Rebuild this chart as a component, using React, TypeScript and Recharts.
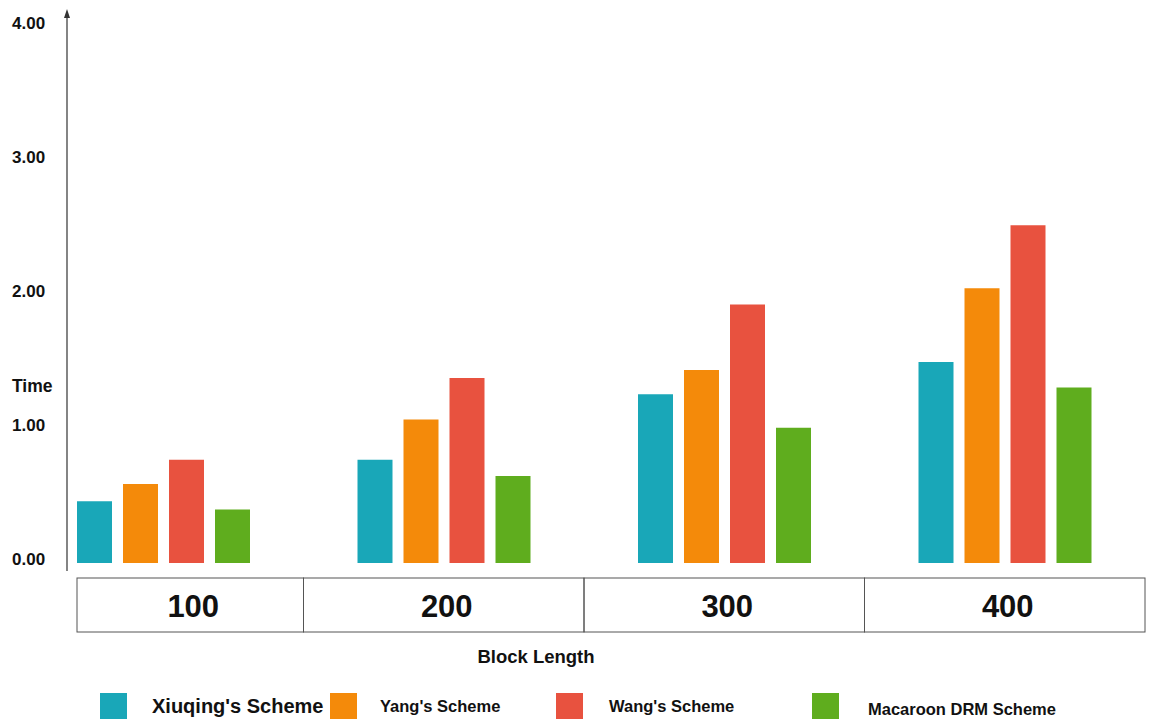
import * as React from "react";
import { BarChart, Bar, XAxis, YAxis, Legend, Label } from "recharts";

const categories = ["100", "200", "300", "400"];
const xiuqing = [0.46, 0.77, 1.26, 1.5];
const yang = [0.59, 1.07, 1.44, 2.05];
const wang = [0.77, 1.38, 1.93, 2.52];
const macaroon = [0.4, 0.65, 1.01, 1.31];
const yTicks = [0, 1, 2, 3, 4];

const series = [
    { key: "xiuqing", name: "Xiuqing's Scheme", color: "#19A7B8" },
    { key: "yang", name: "Yang's Scheme", color: "#F48A0A" },
    { key: "wang", name: "Wang's Scheme", color: "#E8523F" },
    { key: "macaroon", name: "Macaroon DRM Scheme", color: "#5FAD1E" },
];

const data = categories.map((block, i) => ({
    block,
    xiuqing: xiuqing[i],
    yang: yang[i],
    wang: wang[i],
    macaroon: macaroon[i],
}));

const W = 1152;
const H = 720;
const PLOT_LEFT = 23;
const PLOT_RIGHT = 1145;
const BAND = (PLOT_RIGHT - PLOT_LEFT) / categories.length;
const BOX_LEFT = 77;
const BOX_RIGHT = 1145;
const FONT = "'Liberation Sans', Arial, sans-serif";

// box cell + big label under each group
function BandTick(props: any) {
    const { x, y, payload } = props;
    const left = Math.max(BOX_LEFT, x - BAND / 2);
    const right = Math.min(BOX_RIGHT, x + BAND / 2);
    return (
        <g>
            <rect x={left} y={y + 15} width={right - left} height={54} fill="none" stroke="#555" strokeWidth={1} />
            <text x={(left + right) / 2 + 3} y={y + 54} textAnchor="middle" fontSize={31} fontWeight="bold" fill="#111" fontFamily={FONT}>
                {payload.value}
            </text>
        </g>
    );
}

function TimeTick(props: any) {
    const { y, payload } = props;
    return (
        <text x={12} y={y + 2} fontSize={17} fontWeight="bold" fill="#111" fontFamily={FONT}>
            {Number(payload.value).toFixed(2)}
        </text>
    );
}

const legendWidths = [230, 226, 256, 260];
const legendGaps = [25, 23, 26, 29];
const legendSizes = [20, 16.5, 16.5, 16.5];

function LegendRow(props: any) {
    const payload = [...(props.payload || [])].sort(
        (a: any, b: any) => series.findIndex((s) => s.name === a.value) - series.findIndex((s) => s.name === b.value)
    );
    return (
        <div style={{ display: "flex", paddingLeft: 100, fontFamily: FONT, fontWeight: "bold", color: "#111", whiteSpace: "nowrap" }}>
            {payload.map((p: any, i: number) => (
                <div key={p.value} style={{ display: "flex", alignItems: "center", width: legendWidths[i], height: 28 }}>
                    <span style={{ width: 27, height: 26, background: p.color, display: "inline-block", flex: "none" }} />
                    <span style={{ marginLeft: legendGaps[i], fontSize: legendSizes[i], marginTop: i === 3 ? 6 : 0 }}>{p.value}</span>
                </div>
            ))}
        </div>
    );
}

export default function App() {
    return (
        <div style={{ position: "absolute", left: 0, top: 0, width: W, height: H, background: "#fff" }}>
            <BarChart
                width={W}
                height={H}
                data={data}
                barSize={35}
                barGap={11}
                margin={{ top: 27, right: W - PLOT_RIGHT, bottom: 67, left: 0 }}
            >
                <XAxis
                    dataKey="block"
                    height={90}
                    interval={0}
                    axisLine={false}
                    tickLine={false}
                    tickSize={0}
                    tickMargin={0}
                    tick={<BandTick />}
                >
                    <Label value="Block Length" position="insideBottom" offset={-10} dx={-48} fontSize={18.5} fontWeight="bold" fill="#111" fontFamily={FONT} />
                </XAxis>
                <YAxis
                    width={PLOT_LEFT}
                    domain={[0, 4]}
                    ticks={yTicks}
                    interval={0}
                    axisLine={false}
                    tickLine={false}
                    tick={<TimeTick />}
                />
                <Legend
                    layout="horizontal"
                    verticalAlign="middle"
                    content={<LegendRow />}
                    wrapperStyle={{ top: 692, left: 0, width: W }}
                />
                {series.map((s) => (
                    <Bar key={s.key} dataKey={s.key} name={s.name} fill={s.color} isAnimationActive={false} />
                ))}
            </BarChart>
            <svg width={W} height={H} style={{ position: "absolute", left: 0, top: 0, pointerEvents: "none" }}>
                <line x1={67} y1={15} x2={67} y2={571} stroke="#333" strokeWidth={1.2} />
                <polygon points="67,9 64,18 70,18" fill="#333" />
                <text x={12} y={392} fontSize={17.5} fontWeight="bold" fill="#111" fontFamily={FONT}>
                    Time
                </text>
            </svg>
        </div>
    );
}
